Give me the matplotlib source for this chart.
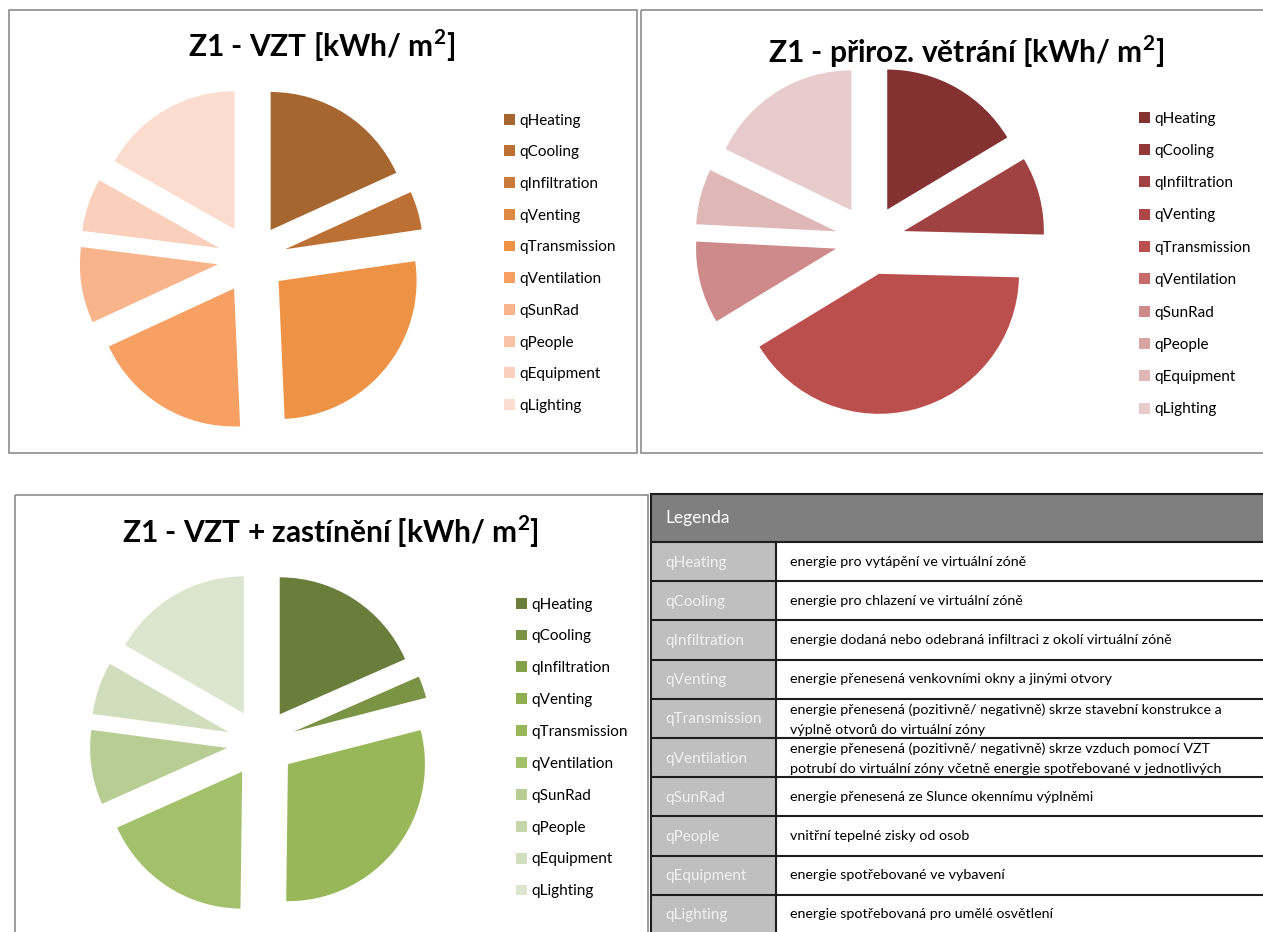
import matplotlib
matplotlib.use('Agg')
import matplotlib.pyplot as plt
from matplotlib.patches import Rectangle

plt.rcParams['font.family'] = ['Lato', 'DejaVu Sans']
plt.rcParams['mathtext.fontset'] = 'custom'
plt.rcParams['mathtext.rm'] = 'Lato'
plt.rcParams['mathtext.bf'] = 'Lato:bold'

# categories shared by all three pies and the table
categories = ['qHeating', 'qCooling', 'qInfiltration', 'qVenting', 'qTransmission',
              'qVentilation', 'qSunRad', 'qPeople', 'qEquipment', 'qLighting']

# shares (%)
vzt = [18.2, 4.5, 0, 0, 26.6, 18.8, 8.9, 0, 6.2, 16.8]
prirozene = [16.4, 0, 9.0, 0, 40.9, 0, 9.5, 0, 6.4, 17.8]
vzt_stineni = [18.4, 2.6, 0, 0, 29.2, 18.1, 8.8, 0, 6.2, 16.7]

titles = [r'Z1 - VZT [kWh/ m$^{\mathbf{2}}$]',
          r'Z1 - přiroz. větrání [kWh/ m$^{\mathbf{2}}$]',
          r'Z1 - VZT + zastínění [kWh/ m$^{\mathbf{2}}$]']

orange = ['#A66630', '#BC7033', '#CA7A3B', '#DD8941', '#EE9345',
          '#F6A163', '#F8B58B', '#F9C2A6', '#FACFBB', '#FBDCCF']
red = ['#833131', '#953838', '#A04242', '#AD4646', '#BB4F4E',
       '#C66A6A', '#CE8A8A', '#D8A3A3', '#E0B7B7', '#E8CBCB']
green = ['#6A7E3C', '#7A9344', '#84A04A', '#8FAE4F', '#98B759',
         '#A3C06B', '#B8CD94', '#C5D6AA', '#D0DEBD', '#DCE6CF']

table_desc = [
    ['energie pro vytápění ve virtuální zóně'],
    ['energie pro chlazení ve virtuální zóně'],
    ['energie dodaná nebo odebraná infiltraci z okolí virtuální zóně'],
    ['energie přenesená venkovními okny a jinými otvory'],
    ['energie přenesená (pozitivně/ negativně) skrze stavební konstrukce a',
     'výplně otvorů do virtuální zóny'],
    ['energie přenesená (pozitivně/ negativně) skrze vzduch pomocí VZT',
     'potrubí do virtuální zóny včetně energie spotřebované v jednotlivých'],
    ['energie přenesená ze Slunce okennímu výplněmi'],
    ['vnitřní tepelné zisky od osob'],
    ['energie spotřebované ve vybavení'],
    ['energie spotřebovaná pro umělé osvětlení'],
]

W, H = 1263, 932
fig = plt.figure(figsize=(W / 100, H / 100), dpi=100)
fig.patch.set_facecolor('white')

# overlay in pixel coordinates for frames, titles and the table
bg = fig.add_axes([0, 0, 1, 1])
bg.set_xlim(0, W)
bg.set_ylim(H, 0)
bg.axis('off')

frame_col = '#8C8C8C'
for x0, y0, x1, y1 in [(9, 10, 637, 453), (641, 10, 1275, 453), (15, 495, 648, 945)]:
    bg.add_patch(Rectangle((x0, y0), x1 - x0, y1 - y0, fill=False, ec=frame_col, lw=1.2))

# pies: (values, colors, center px, radius px, title pos, legend pos, legend spacing)
pies = [
    (vzt, orange, (252, 259), 138, (322, 46), (504, 113.5), 1.16),
    (prirozene, red, (870, 240), 140, (966, 52), (1139, 111.5), 1.20),
    (vzt_stineni, green, (261, 743), 137, (330, 532), (516, 597.5), 1.17),
]

for (vals, cols, (cx, cy), r, (tx, ty), (lx, ly), sp), title in zip(pies, titles):
    ax = fig.add_axes([(cx - 1.5 * r) / W, 1 - (cy + 1.5 * r) / H, 3 * r / W, 3 * r / H])
    wedges, _ = ax.pie(vals, colors=cols, startangle=90, counterclock=False,
                       explode=[0.25] * len(vals), radius=1,
                       wedgeprops=dict(linewidth=0))
    ax.set_xlim(-1.5, 1.5)
    ax.set_ylim(-1.5, 1.5)
    ax.axis('off')
    bg.text(tx, ty, title, ha='center', va='center', fontsize=21.5, fontweight='bold', color='black')
    ax.legend(wedges, categories, loc='upper left', bbox_to_anchor=(lx / W, 1 - ly / H),
              bbox_transform=fig.transFigure, frameon=False, fontsize=11,
              handlelength=0.72, handleheight=0.72, handletextpad=0.3,
              labelspacing=sp, borderpad=0, borderaxespad=0)

# legend table
tx0, tx1, tcol = 651, 1263, 776
head_top, head_bot = 494, 542
row_h = 39.2
line_col = '#1E1E1E'

bg.add_patch(Rectangle((tx0, head_top), tx1 - tx0, head_bot - head_top, fc='#7F7F7F', ec='none'))
bg.text(665, (head_top + head_bot) / 2, 'Legenda', ha='left', va='center', fontsize=12.5, color='white')

for i, (name, desc) in enumerate(zip(categories, table_desc)):
    top = head_bot + i * row_h
    bg.add_patch(Rectangle((tx0, top), tcol - tx0, row_h, fc='#BFBFBF', ec='none'))
    bg.text(665, top + row_h / 2 + 1, name, ha='left', va='center', fontsize=11, color='#F2F2F2')
    if len(desc) == 1:
        bg.text(790, top + row_h / 2, desc[0], ha='left', va='center', fontsize=10.3, color='black')
    else:
        bg.text(790, top + 11, desc[0], ha='left', va='center', fontsize=10.3, color='black')
        bg.text(790, top + 31, desc[1], ha='left', va='center', fontsize=10.3, color='black')

# grid lines drawn over the cell text
bg.plot([tx0, tx1], [head_top, head_top], color=line_col, lw=1.5, zorder=5)
bg.plot([tx0, tx1], [head_bot, head_bot], color=line_col, lw=1.5, zorder=5)
for i in range(1, len(categories) + 1):
    y = head_bot + i * row_h
    bg.plot([tx0, tx1], [y, y], color=line_col, lw=1.5, zorder=5)
bg.plot([tx0, tx0], [head_top, H], color=line_col, lw=1.5, zorder=5)
bg.plot([tcol, tcol], [head_bot, H], color=line_col, lw=1.5, zorder=5)

fig.savefig('out.png', dpi=100)
